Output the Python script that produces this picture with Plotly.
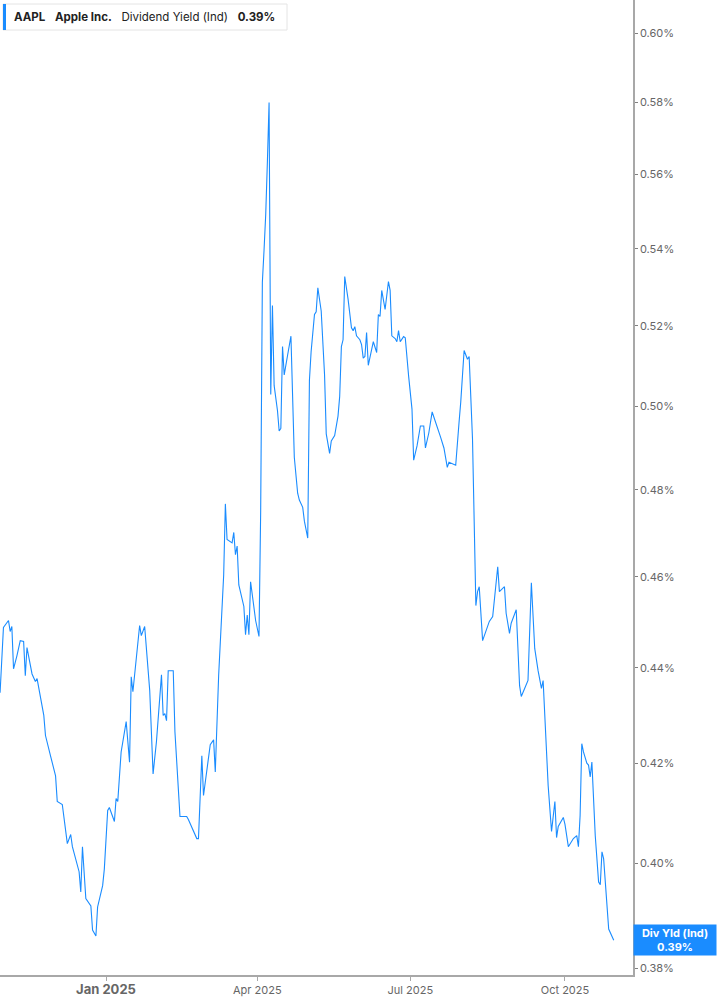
import math
import plotly.graph_objects as go

# AAPL dividend yield (indicated), in percent
dates = [
    "2024-10-30", "2024-11-01", "2024-11-04", "2024-11-05", "2024-11-06", "2024-11-07",
    "2024-11-09", "2024-11-11", "2024-11-13", "2024-11-14", "2024-11-15", "2024-11-18",
    "2024-11-20", "2024-11-21", "2024-11-25", "2024-11-26", "2024-11-29", "2024-12-02",
    "2024-12-03", "2024-12-06", "2024-12-09", "2024-12-11", "2024-12-12", "2024-12-16",
    "2024-12-17", "2024-12-18", "2024-12-20", "2024-12-23", "2024-12-24", "2024-12-26",
    "2024-12-27", "2024-12-30", "2024-12-31", "2025-01-02", "2025-01-03", "2025-01-06",
    "2025-01-07", "2025-01-08", "2025-01-10", "2025-01-13", "2025-01-15", "2025-01-16",
    "2025-01-17", "2025-01-21", "2025-01-22", "2025-01-24", "2025-01-27", "2025-01-29",
    "2025-01-31", "2025-02-03", "2025-02-04", "2025-02-05", "2025-02-06", "2025-02-07",
    "2025-02-10", "2025-02-11", "2025-02-14", "2025-02-18", "2025-02-19", "2025-02-21",
    "2025-02-24", "2025-02-25", "2025-02-27", "2025-02-28", "2025-03-04", "2025-03-06",
    "2025-03-07", "2025-03-09", "2025-03-10", "2025-03-12", "2025-03-13", "2025-03-14",
    "2025-03-17", "2025-03-18", "2025-03-19", "2025-03-20", "2025-03-21", "2025-03-24",
    "2025-03-25", "2025-03-26", "2025-03-27", "2025-03-28", "2025-03-31", "2025-04-02",
    "2025-04-03", "2025-04-04", "2025-04-05", "2025-04-06", "2025-04-07", "2025-04-08",
    "2025-04-09", "2025-04-10", "2025-04-11", "2025-04-13", "2025-04-14", "2025-04-15",
    "2025-04-16", "2025-04-17", "2025-04-19", "2025-04-21", "2025-04-23", "2025-04-25",
    "2025-04-26", "2025-04-28", "2025-04-29", "2025-05-01", "2025-05-02", "2025-05-03",
    "2025-05-05", "2025-05-06", "2025-05-07", "2025-05-09", "2025-05-11", "2025-05-12",
    "2025-05-14", "2025-05-15", "2025-05-17", "2025-05-19", "2025-05-20", "2025-05-21",
    "2025-05-22", "2025-05-23", "2025-05-25", "2025-05-27", "2025-05-28", "2025-05-29",
    "2025-05-30", "2025-06-01", "2025-06-02", "2025-06-03", "2025-06-04", "2025-06-05",
    "2025-06-06", "2025-06-08", "2025-06-09", "2025-06-11", "2025-06-12", "2025-06-13",
    "2025-06-14", "2025-06-16", "2025-06-18", "2025-06-19", "2025-06-20", "2025-06-22",
    "2025-06-23", "2025-06-24", "2025-06-25", "2025-06-27", "2025-06-28", "2025-06-30",
    "2025-07-02", "2025-07-03", "2025-07-05", "2025-07-07", "2025-07-09", "2025-07-10",
    "2025-07-12", "2025-07-14", "2025-07-17", "2025-07-19", "2025-07-21", "2025-07-23",
    "2025-07-24", "2025-07-28", "2025-07-30", "2025-07-31", "2025-08-02", "2025-08-04",
    "2025-08-05", "2025-08-07", "2025-08-08", "2025-08-09", "2025-08-10", "2025-08-11",
    "2025-08-13", "2025-08-16", "2025-08-17", "2025-08-19", "2025-08-22", "2025-08-23",
    "2025-08-25", "2025-08-26", "2025-08-27", "2025-08-29", "2025-08-30", "2025-09-02",
    "2025-09-04", "2025-09-05", "2025-09-07", "2025-09-09", "2025-09-11", "2025-09-13",
    "2025-09-15", "2025-09-17", "2025-09-18", "2025-09-19", "2025-09-21", "2025-09-23",
    "2025-09-25", "2025-09-26", "2025-09-27", "2025-09-30", "2025-10-01", "2025-10-03",
    "2025-10-06", "2025-10-08", "2025-10-09", "2025-10-10", "2025-10-11", "2025-10-12",
    "2025-10-14", "2025-10-15", "2025-10-16", "2025-10-17", "2025-10-19", "2025-10-21",
    "2025-10-22", "2025-10-23", "2025-10-24", "2025-10-27", "2025-10-28", "2025-10-30",
]

div_yield = [
    0.4347, 0.4488, 0.4503, 0.4479, 0.4490, 0.4398,
    0.4426, 0.4459, 0.4457, 0.4383, 0.4444, 0.4387,
    0.4371, 0.4377, 0.4299, 0.4257, 0.4215, 0.4174,
    0.4122, 0.4116, 0.4038, 0.4056, 0.4032, 0.3983,
    0.3944, 0.4032, 0.3931, 0.3917, 0.3871, 0.3860,
    0.3915, 0.3956, 0.3988, 0.4104, 0.4110, 0.4082,
    0.4128, 0.4122, 0.4223, 0.4286, 0.4202, 0.4381,
    0.4349, 0.4492, 0.4470, 0.4490, 0.4352, 0.4178,
    0.4244, 0.4385, 0.4299, 0.4303, 0.4288, 0.4394,
    0.4394, 0.4265, 0.4092, 0.4092, 0.4086, 0.4070,
    0.4048, 0.4048, 0.4215, 0.4134, 0.4238, 0.4248,
    0.4182, 0.4383, 0.4448, 0.4605, 0.4767, 0.4685,
    0.4677, 0.4701, 0.4650, 0.4670, 0.4582, 0.4534,
    0.4472, 0.4515, 0.4472, 0.4589, 0.4503, 0.4468,
    0.4751, 0.5312, 0.5396, 0.5491, 0.5635, 0.5800,
    0.5029, 0.5252, 0.5051, 0.4989, 0.4940, 0.4946,
    0.5148, 0.5077, 0.5126, 0.5174, 0.4877, 0.4792,
    0.4776, 0.4759, 0.4727, 0.4688, 0.5064, 0.5135,
    0.5229, 0.5236, 0.5298, 0.5238, 0.5077, 0.4933,
    0.4886, 0.4916, 0.4929, 0.4976, 0.5024, 0.5148,
    0.5165, 0.5327, 0.5268, 0.5195, 0.5188, 0.5198,
    0.5175, 0.5165, 0.5153, 0.5119, 0.5123, 0.5183,
    0.5101, 0.5141, 0.5160, 0.5133, 0.5229, 0.5224,
    0.5291, 0.5242, 0.5314, 0.5291, 0.5175, 0.5168,
    0.5160, 0.5188, 0.5160, 0.5173, 0.5170, 0.5074,
    0.4993, 0.4870, 0.4904, 0.4952, 0.4952, 0.4899,
    0.4935, 0.4986, 0.4952, 0.4925, 0.4899, 0.4853,
    0.4865, 0.4858, 0.4961, 0.5010, 0.5138, 0.5116,
    0.5123, 0.4920, 0.4725, 0.4536, 0.4567, 0.4578,
    0.4459, 0.4492, 0.4501, 0.4512, 0.4623, 0.4567,
    0.4576, 0.4578, 0.4519, 0.4475, 0.4497, 0.4527,
    0.4362, 0.4339, 0.4356, 0.4373, 0.4587, 0.4442,
    0.4394, 0.4356, 0.4373, 0.4293, 0.4154, 0.4062,
    0.4122, 0.4050, 0.4072, 0.4090, 0.4076, 0.4032,
    0.4048, 0.4054, 0.4032, 0.4094, 0.4240, 0.4223,
    0.4200, 0.4196, 0.4172, 0.4202, 0.4054, 0.3963,
    0.3958, 0.4022, 0.4008, 0.3873, 0.3867, 0.3852,
]

y_ticks = [0.38, 0.40, 0.42, 0.44, 0.46, 0.48, 0.50, 0.52, 0.54, 0.56, 0.58, 0.60]
x_ticks = ["2025-01-01", "2025-04-01", "2025-07-01", "2025-10-01"]
x_labels = ["<b><span style='font-size:13px'>Jan 2025</span></b>", "Apr 2025", "Jul 2025", "Oct 2025"]

blue = "#1a8cff"

fig = go.Figure()
fig.add_trace(go.Scatter(x=dates, y=div_yield, mode="lines",
                         line=dict(color=blue, width=1.1), showlegend=False))

fig.update_layout(
    width=717, height=1005,
    margin=dict(l=0, r=84, t=0, b=30),
    paper_bgcolor="white", plot_bgcolor="white",
    font=dict(family="Inter, Roboto, sans-serif", color="#666666", size=11),
    xaxis=dict(
        range=["2024-10-29 22:48", "2025-11-10 11:00"],
        tickvals=x_ticks, ticktext=x_labels,
        showgrid=False, zeroline=False,
        showline=True, linecolor="#a8a8a8", linewidth=1.5,
        ticks="outside", ticklen=4, tickcolor="#a8a8a8",
        tickfont=dict(size=11, color="#666666"),
    ),
    yaxis=dict(
        type="log", side="right",
        range=[-0.421701, -0.214848],
        tickvals=y_ticks, ticktext=[f"{v:.2f}%" for v in y_ticks],
        showgrid=False, zeroline=False,
        showline=True, linecolor="#a8a8a8", linewidth=1.5,
        ticks="outside", ticklen=3, tickcolor="#808080",
        tickfont=dict(size=11, color="#666666"),
    ),
)

# header box at top-left
fig.add_shape(type="rect", xref="paper", yref="paper",
              x0=3 / 633, x1=287 / 633, y0=(975 - 30) / 975, y1=(975 - 4) / 975,
              line=dict(color="#e4e4e4", width=1), fillcolor="white", layer="above")
fig.add_shape(type="rect", xref="paper", yref="paper",
              x0=3 / 633, x1=6 / 633, y0=(975 - 30) / 975, y1=(975 - 4) / 975,
              line=dict(width=0), fillcolor=blue, layer="above")
sp = "\u00a0\u00a0\u00a0"
fig.add_annotation(xref="paper", yref="paper", x=12 / 633, y=(975 - 17) / 975,
                   xanchor="left", yanchor="middle", showarrow=False,
                   text="<b>AAPL</b>" + sp + "<b>Apple Inc.</b>" + sp
                        + "Dividend Yield (Ind)" + sp + "<b>0.39%</b>",
                   font=dict(size=11.5, color="#222222"))

# last value tag on the right axis
fig.add_annotation(xref="paper", yref="y", x=1, y=math.log10(div_yield[-1]),
                   xanchor="left", yanchor="middle", showarrow=False,
                   text="<b>Div Yld (Ind)<br>0.39%</b>",
                   font=dict(size=11, color="white"), bgcolor=blue,
                   width=78, height=26, borderpad=2, align="center")

fig.write_html("out.html", config={"displayModeBar": False},
               post_script="document.body.style.margin='0';")
